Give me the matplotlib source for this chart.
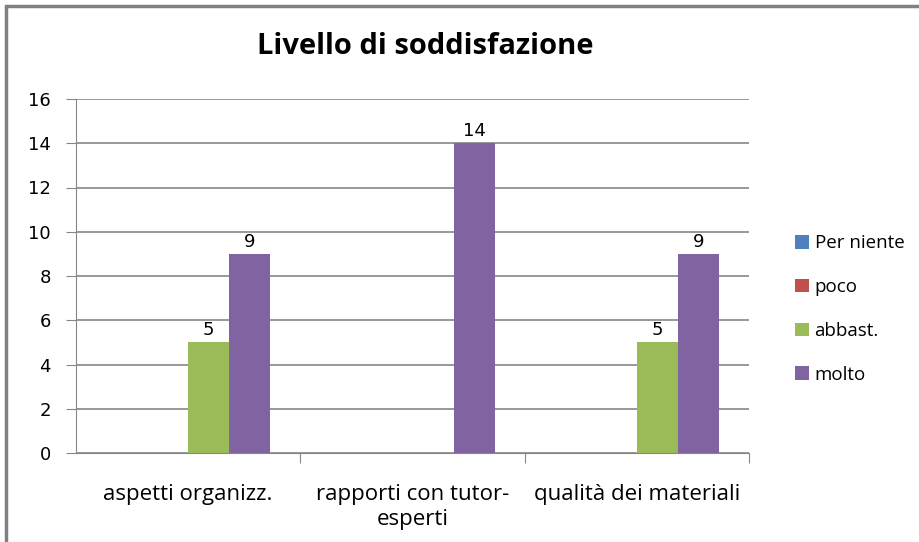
import numpy as np
import matplotlib.pyplot as plt
from matplotlib.patches import Rectangle

categories = ['aspetti organizz.', 'rapporti con tutor-\nesperti', 'qualità dei materiali']
series_names = ['Per niente', 'poco', 'abbast.', 'molto']
per_niente = [0, 0, 0]
poco = [0, 0, 0]
abbast = [5, 0, 5]
molto = [9, 14, 9]
colors = ['#4F81BD', '#C0504D', '#9BBB59', '#8064A2']

plt.rcParams['font.family'] = ['Open Sans', 'DejaVu Sans']

fig = plt.figure(figsize=(9.19, 5.42), dpi=100)
ax = fig.add_axes([76 / 919, 1 - 453 / 542, (749 - 76) / 919, (453 - 99) / 542])

# outer frame of the chart area
fig.patches.append(Rectangle((6 / 919, -0.05), 1.2, 1 - 6 / 542 + 0.05,
                             transform=fig.transFigure, fill=False,
                             edgecolor='#808080', linewidth=2.5))

x = np.arange(len(categories))
w = 0.183
all_series = [per_niente, poco, abbast, molto]
for i, (vals, name, c) in enumerate(zip(all_series, series_names, colors)):
    pos = x + (i - 1.5) * w
    bars = ax.bar(pos, vals, width=w, color=c, label=name, zorder=3)
    for b, v in zip(bars, vals):
        if v > 0:
            ax.text(b.get_x() + b.get_width() / 2, v + 0.15, str(v),
                    ha='center', va='bottom', fontsize=13, family='DejaVu Sans')

ax.set_xlim(-0.5, 2.5)
ax.set_ylim(0, 16)
ax.set_yticks(range(0, 17, 2))
ax.yaxis.grid(True, color='#868686', linewidth=1.2, zorder=0)
ax.set_axisbelow(True)

for s in ['top', 'right']:
    ax.spines[s].set_visible(False)
ax.spines['left'].set_color('#868686')
ax.spines['bottom'].set_color('#868686')

ax.set_xticks([0.5, 1.5, 2.5])
ax.set_xticklabels([])
ax.set_xticks(x, minor=True)
ax.set_xticklabels(categories, minor=True, fontsize=16, linespacing=1.3)
ax.tick_params(axis='x', which='major', length=7, color='#868686', direction='out')
ax.tick_params(axis='x', which='minor', length=0, pad=22)
ax.tick_params(axis='y', length=7, color='#868686', labelsize=13, pad=11)
for lab in ax.get_yticklabels():
    lab.set_family('DejaVu Sans')

fig.text(425 / 919, 1 - 47 / 542, 'Livello di soddisfazione', ha='center', va='center',
         fontsize=21, fontweight='bold')

ax.legend(loc='center left', bbox_to_anchor=(778 / 919, 1 - 309 / 542),
          bbox_transform=fig.transFigure, frameon=False, fontsize=13.5,
          handlelength=0.75, handleheight=0.75, handletextpad=0.3,
          labelspacing=1.38)

fig.savefig('out.png', dpi=100)
